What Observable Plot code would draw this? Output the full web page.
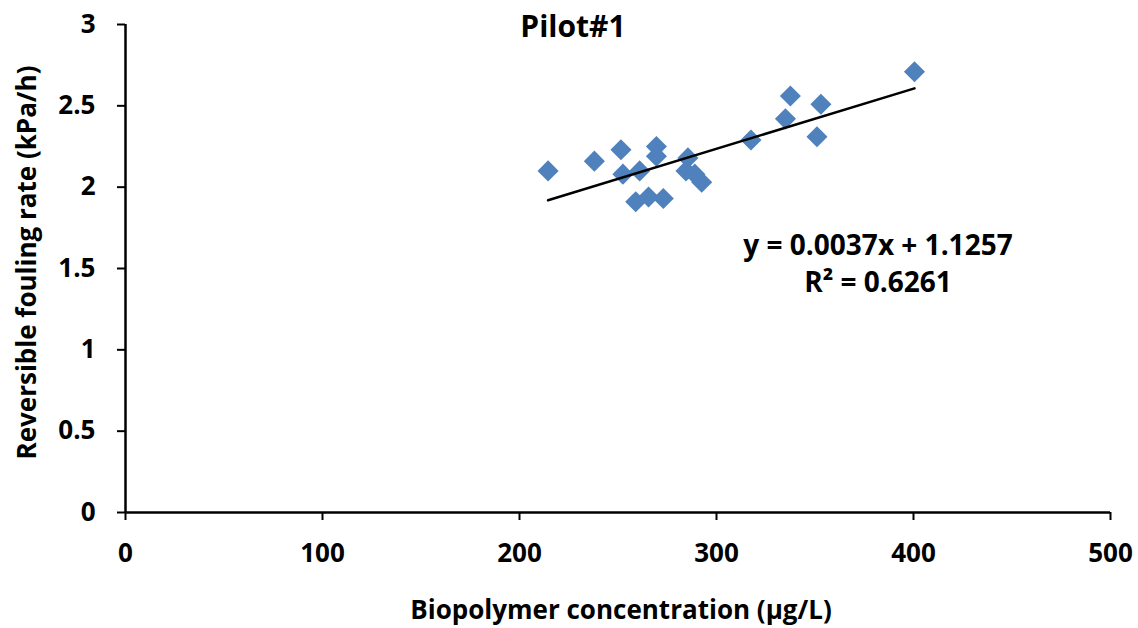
<!DOCTYPE html>
<html>
<head>
<meta charset="utf-8">
<script src="https://cdn.jsdelivr.net/npm/d3@7"></script>
<script src="https://cdn.jsdelivr.net/npm/@observablehq/plot@0.6"></script>
<style>
  html, body { margin: 0; padding: 0; background: #fff; }
  #chart svg { display: block; }
</style>
</head>
<body>
<div id="chart"></div>
<script>
// Data
const biopolymer = [214.5, 238.0, 251.5, 252.5, 261.0, 259.0, 265.5, 273.0, 269.5, 269.5, 285.5, 284.5, 289.0, 292.5, 317.5, 335.0, 337.5, 353.0, 351.0, 400.5];
const foulingRate = [2.10, 2.16, 2.23, 2.08, 2.10, 1.91, 1.94, 1.93, 2.25, 2.19, 2.18, 2.10, 2.08, 2.03, 2.29, 2.42, 2.56, 2.51, 2.31, 2.71];
const xTicks = [0, 100, 200, 300, 400, 500];
const yTicks = [0, 0.5, 1, 1.5, 2, 2.5, 3];
const slope = 0.0037;
const intercept = 1.1257;
const equationText = "y = 0.0037x + 1.1257";
const r2Text = "R² = 0.6261";
const title = "Pilot#1";
const xLabel = "Biopolymer concentration (µg/L)";
const yLabel = "Reversible fouling rate (kPa/h)";

const points = biopolymer.map((x, i) => ({x, y: foulingRate[i]}));
const [xmin, xmax] = d3.extent(biopolymer);
const trend = [xmin, xmax].map(x => ({x, y: slope * x + intercept}));

const font = "'Open Sans', sans-serif";

const chart = Plot.plot({
  width: 1138,
  height: 628,
  marginTop: 24,
  marginRight: 28,
  marginBottom: 116,
  marginLeft: 125,
  style: {fontFamily: font, background: "#fff", overflow: "visible"},
  x: {domain: [0, 500]},
  y: {domain: [0, 3]},
  marks: [
    Plot.axisY({ticks: yTicks, tickFormat: d => String(d), tickSize: 8, tickPadding: 22, fontSize: 26, fontWeight: "bold", fill: "#000", stroke: "#000", strokeWidth: 2, label: null}),
    Plot.axisX({ticks: xTicks, tickFormat: d => String(d), tickSize: 8, tickPadding: 23, fontSize: 26, fontWeight: "bold", fill: "#000", stroke: "#000", strokeWidth: 2, label: null}),
    Plot.ruleX([0], {stroke: "#000", strokeWidth: 2.5}),
    Plot.ruleY([0], {stroke: "#000", strokeWidth: 2.5}),
    Plot.dot(points, {x: "x", y: "y", symbol: "diamond2", r: 9.5, fill: "#4f81bd", stroke: "none"}),
    Plot.line(trend, {x: "x", y: "y", stroke: "#000", strokeWidth: 2.5}),
    Plot.text([title], {frameAnchor: "top", textAnchor: "middle", dx: -45, dy: 3, lineAnchor: "middle", fontSize: 30, fontWeight: "bold", fill: "#000"}),
    Plot.text([equationText], {frameAnchor: "top", textAnchor: "middle", dx: 260, dy: 222, lineAnchor: "middle", fontSize: 28, fontWeight: "bold", fill: "#000"}),
    Plot.text([r2Text], {frameAnchor: "top", textAnchor: "middle", dx: 260, dy: 259, lineAnchor: "middle", fontSize: 28, fontWeight: "bold", fill: "#000"}),
    Plot.text([xLabel], {frameAnchor: "bottom", textAnchor: "middle", dx: 3, dy: 98, lineAnchor: "middle", fontSize: 26, fontWeight: "bold", fill: "#000"}),
    Plot.text([yLabel], {frameAnchor: "left", textAnchor: "middle", dx: -98, dy: -6, rotate: -90, lineAnchor: "middle", fontSize: 26, fontWeight: "bold", fill: "#000"})
  ]
});

document.getElementById("chart").appendChild(chart);
</script>
</body>
</html>
